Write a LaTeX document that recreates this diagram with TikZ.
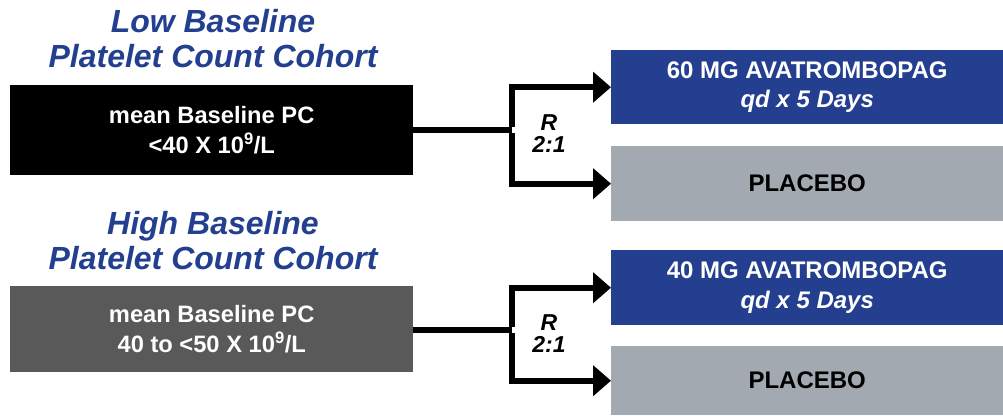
\documentclass[tikz,border=0pt]{standalone}
\usepackage{fontspec}
\setmainfont{Liberation Sans}
\usetikzlibrary{arrows.meta}

\definecolor{titleblue}{HTML}{233F8F}
\definecolor{armblue}{HTML}{243F8F}
\definecolor{cohortgrey}{HTML}{595959}
\definecolor{placebogrey}{HTML}{A2A9B0}

\tikzset{
  cohorttitle/.style={text=titleblue, align=center, inner sep=0pt,
    font=\fontsize{32}{35}\selectfont\bfseries\itshape},
  cohortbox/.style={anchor=north west, minimum width=403pt, minimum height=#1,
    text=white, align=center, inner sep=0pt,
    font=\fontsize{23.7}{29.5}\selectfont\bfseries},
  armbox/.style={anchor=north west, minimum width=392pt, minimum height=#1,
    align=center, inner sep=0pt,
    font=\fontsize{24}{29.5}\selectfont\bfseries},
  ratio/.style={align=center, inner sep=0pt,
    font=\fontsize{23}{22}\selectfont\bfseries\itshape},
  link/.style={line width=6pt, line join=miter},
  arm/.style={link, -{Triangle[length=18pt,width=30pt]}}
}

\begin{document}
\begin{tikzpicture}[x=1pt,y=-1pt]
\useasboundingbox (0,0) rectangle (1003,415);

% low baseline cohort
\node[cohorttitle] (t1) at (213,39) {Low Baseline\\Platelet Count Cohort};
\node[cohortbox=90pt, fill=black] (low) at (10,85)
  {mean Baseline PC\\<40 X 10\textsuperscript{9}/L};
\node[armbox=74pt, fill=armblue, text=white] (a60) at (611,50)
  {60 MG AVATROMBOPAG\\{\itshape qd x 5 Days}};
\node[armbox=75pt, fill=placebogrey, text=black] (p1) at (611,146) {PLACEBO};

% high baseline cohort
\node[cohorttitle] (t2) at (213,241) {High Baseline\\Platelet Count Cohort};
\node[cohortbox=86pt, fill=cohortgrey] (high) at (10,286)
  {mean Baseline PC\\40 to <50 X 10\textsuperscript{9}/L};
\node[armbox=75pt, fill=armblue, text=white] (a40) at (611,250)
  {40 MG AVATROMBOPAG\\{\itshape qd x 5 Days}};
\node[armbox=69pt, fill=placebogrey, text=black] (p2) at (611,346) {PLACEBO};

% randomisation branches
\coordinate (j1) at (512,130);
\coordinate (j2) at (512,330);
\draw[link] (low.east |- j1) -- (j1);
\draw[arm] ([yshift=3pt]j1) |- (a60.west);
\draw[arm] ([yshift=-3pt]j1) |- (p1.west);
\draw[link] (high.east |- j2) -- (j2);
\draw[arm] ([yshift=3pt]j2) |- (a40.west);
\draw[arm] ([yshift=-3pt]j2) |- (p2.west);

\node[ratio] (r1) at (549,134) {R\\2:1};
\node[ratio] (r2) at (549,334) {R\\2:1};
\end{tikzpicture}
\end{document}
